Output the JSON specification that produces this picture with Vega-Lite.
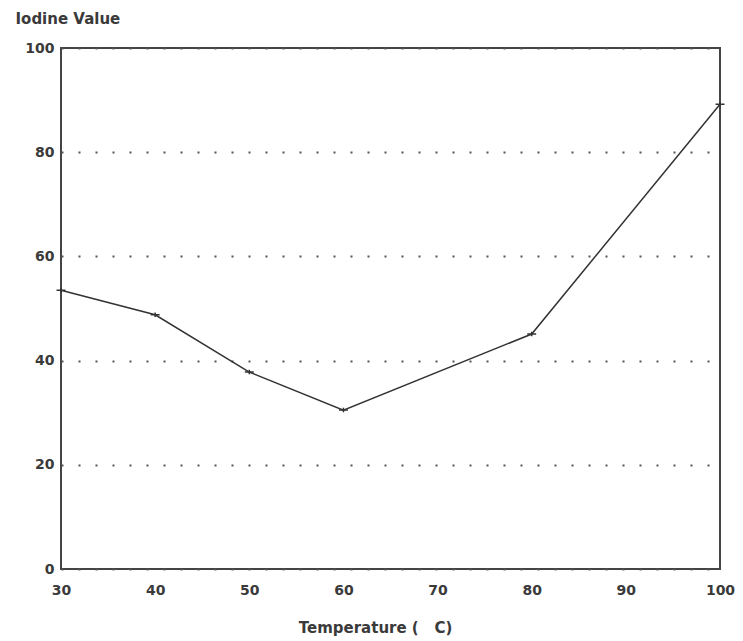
{
  "$schema": "https://vega.github.io/schema/vega-lite/v6.json",
  "width": 659,
  "height": 521,
  "autosize": {"type": "none"},
  "padding": {"left": 61, "top": 48, "right": 23, "bottom": 72},
  "background": "white",
  "config": {
    "view": {"stroke": "#444", "strokeWidth": 2},
    "axis": {"labelFont": "DejaVu Sans", "labelFontWeight": "bold", "labelFontSize": 14, "labelColor": "#3a3a3a", "titleFont": "DejaVu Sans", "titleFontWeight": "bold", "titleFontSize": 15, "titleColor": "#3a3a3a"}
  },
  "data": {
    "values": [
      {"temp": 30, "iv": 53.5},
      {"temp": 40, "iv": 48.8},
      {"temp": 50, "iv": 37.8},
      {"temp": 60, "iv": 30.5},
      {"temp": 80, "iv": 45.1},
      {"temp": 100, "iv": 89.2}
    ]
  },
  "encoding": {
    "x": {
      "field": "temp", "type": "quantitative",
      "scale": {"domain": [30, 100], "nice": false, "zero": false},
      "axis": {"values": [30, 40, 50, 60, 70, 80, 90, 100], "grid": false, "ticks": false, "domain": false, "labelFlush": false, "labelPadding": 14, "title": "Temperature (\u00a0\u00a0\u00a0C)", "titleX": 314, "titleY": 63, "titleBaseline": "alphabetic"}
    },
    "y": {
      "field": "iv", "type": "quantitative",
      "scale": {"domain": [0, 100], "nice": false},
      "axis": {"values": [0, 20, 40, 60, 80, 100], "grid": true, "gridDash": [2, 15], "gridWidth": 2, "gridColor": "#555", "ticks": false, "domain": false, "labelFlush": false, "labelPadding": 7, "title": "Iodine Value", "titleAngle": 0, "titleX": -46, "titleY": -25, "titleAlign": "left", "titleBaseline": "alphabetic"}
    }
  },
  "layer": [
    {"mark": {"type": "line", "color": "#333", "strokeWidth": 1.5}},
    {"mark": {"type": "point", "shape": "M-1,0H1M0,-0.5V0.5", "size": 80, "stroke": "#333", "strokeWidth": 1.5, "filled": false, "opacity": 1}}
  ]
}
